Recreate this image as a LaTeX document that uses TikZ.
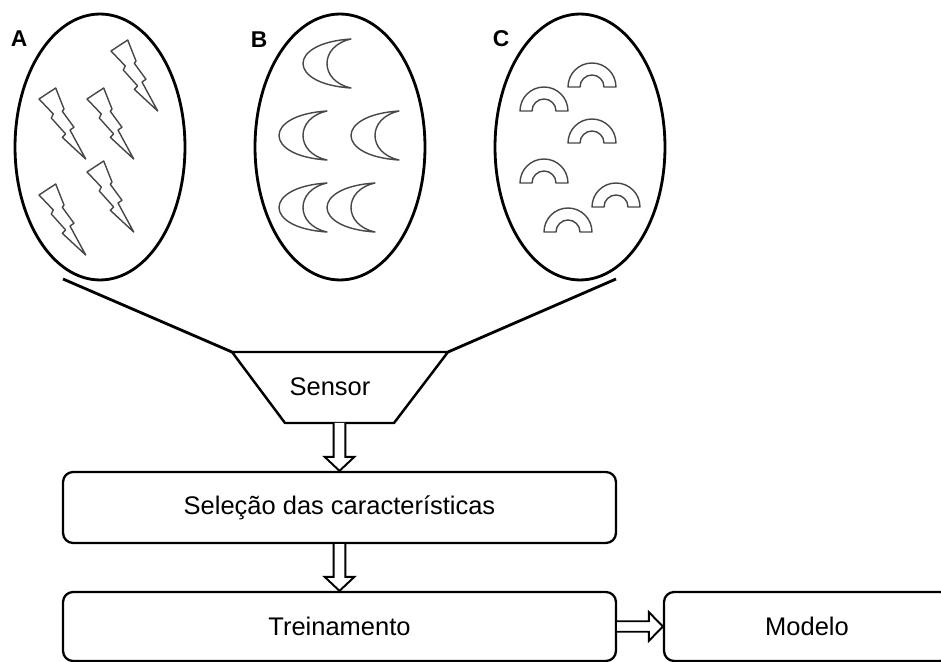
\documentclass[tikz,border=0pt]{standalone}
\usepackage{fontspec}
\setmainfont{Liberation Sans}
\usetikzlibrary{shapes.geometric}

\tikzset{
	blob/.style={ellipse, draw, line width=1.6pt, minimum width=3.4cm, minimum height=5.32cm, inner sep=0pt},
	stage/.style={draw, rounded corners=0.2cm, line width=1.3pt, inner sep=0pt, font=\fontsize{14.5}{17}\selectfont},
	sketch/.style={draw=black!72, line width=0.8pt, line join=round},
	feed/.style={line width=1.6pt},
	tag/.style={font=\bfseries\fontsize{13}{15}\selectfont},
	flowline/.style={draw, fill=white, line width=1.1pt, line join=miter}
}
\def\bolt(#1,#2){\draw[sketch, shift={(#1,#2)}] (0,0) -- (16.7,-11) -- (25,10) -- (23.3,12.3) -- (35,28.3) -- (31,31) -- (46.7,60) -- (23.3,38.3) -- (26.7,35) -- (12.3,19) -- (14.3,15) -- cycle;}
\def\moon(#1,#2){\draw[sketch, shift={(#1,#2)}] (0,0) .. controls (-64,4) and (-64,45) .. (0,49) .. controls (-32,42) and (-32,7) .. (0,0) -- cycle;}
\def\arch(#1,#2){\draw[sketch, shift={(#1,#2)}] (-24,0) arc[start angle=180, end angle=0, radius=0.48cm] -- (12,0) arc[start angle=0, end angle=180, radius=0.24cm] -- cycle;}
\def\flowdown(#1)(#2){\draw[flowline] ([xshift=-3.3pt]#1) -- ([xshift=-3.3pt,yshift=8pt]#2) -- ([xshift=-8.5pt,yshift=8pt]#2) -- (#2) -- ([xshift=8.5pt,yshift=8pt]#2) -- ([xshift=3.3pt,yshift=8pt]#2) -- ([xshift=3.3pt]#1);}
\def\flowright(#1)(#2){\draw[flowline] ([yshift=3pt]#1) -- ([xshift=-8pt,yshift=3pt]#2) -- ([xshift=-8pt,yshift=8.2pt]#2) -- (#2) -- ([xshift=-8pt,yshift=-8.2pt]#2) -- ([xshift=-8pt,yshift=-3pt]#2) -- ([yshift=-3pt]#1);}

\begin{document}
\begin{tikzpicture}[x=0.02cm, y=-0.02cm]
		%%%%% START %%%%%
		\useasboundingbox (0,0) rectangle (941,662);
		
		\node[blob] (ellA) at (100,147) {};
		\node[blob] (ellB) at (340,147) {};
		\node[blob] (ellC) at (580,147) {};
		\node[tag] (labA) at (19,39) {A};
		\node[tag] (labB) at (259,40) {B};
		\node[tag] (labC) at (501,39) {C};
		
		\bolt(111,51)
		\bolt(39,99)
		\bolt(87,99)
		\bolt(87,172)
		\bolt(39,195)
		
		\moon(351,39)
		\moon(327,111)
		\moon(399,111)
		\moon(327,183)
		\moon(375,183)
		
		\arch(592,87)
		\arch(544,111)
		\arch(592,143)
		\arch(544,183)
		\arch(616,207)
		\arch(568,232)
		
		\coordinate (sensTL) at (232,352);
		\coordinate (sensTR) at (448,352);
		\coordinate (sensBR) at (394,423);
		\coordinate (sensBL) at (285,423);
		\coordinate (sensB) at (339.5,423);
		\coordinate (fanA) at (63,279);
		\coordinate (fanC) at (616,279);
		\draw[line width=1.4pt, line join=round] (sensTL) -- (sensTR) -- (sensBR) -- (sensBL) -- cycle;
		\node[font=\fontsize{14.5}{17}\selectfont] (sensor) at (330,387) {Sensor};
		\draw[feed] (fanA) -- (sensTL);
		\draw[feed] (fanC) -- (sensTR);
		
		\node[stage, minimum width=11.06cm, minimum height=1.42cm] (sel) at (339.5,507.5) {Seleção das características};
		\node[stage, minimum width=11.06cm, minimum height=1.38cm] (train) at (339.5,626.5) {Treinamento};
		\node[stage, minimum width=5.72cm, minimum height=1.38cm] (model) at (807,626.5) {Modelo};
		
		\flowdown(sensB)(sel.north)
		\flowdown(sel.south)(train.north)
		\flowright(train.east)(model.west)
		%%%%% END %%%%%
\end{tikzpicture}
\end{document}
